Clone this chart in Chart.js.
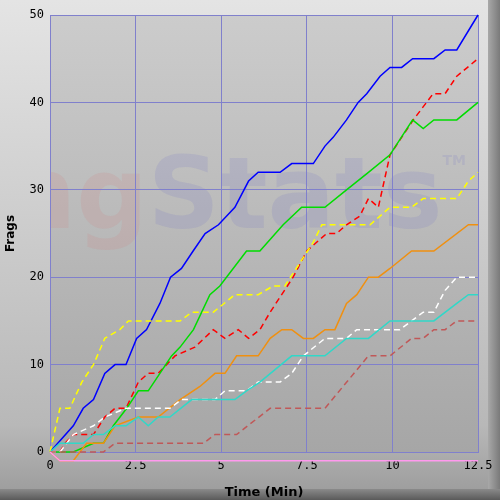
<!DOCTYPE html>
<html><head><meta charset="utf-8">
<script src="https://cdn.jsdelivr.net/npm/chart.js@4"></script>
<style>
html,body{margin:0;padding:0;background:#888;}
#wrap{position:relative;width:500px;height:500px;background:linear-gradient(#e4e4e4,#b8b8b8 85%,#9a9a9a);}
#bot{position:absolute;left:0;right:0;bottom:0;height:11px;background:linear-gradient(#8a8a8a,#5a5a5a);}
#edge{position:absolute;top:0;right:0;width:12px;height:500px;background:linear-gradient(90deg,#a8a8a8,#7a7a7a);}
canvas{position:absolute;left:0;top:0;z-index:1;}
</style></head><body>
<div id="wrap"><div id="edge"></div><div id="bot"></div><canvas id="c" width="500" height="500"></canvas></div>
<script>
const xTicks = [0, 2.5, 5, 7.5, 10, 12.5];
const yTicks = [0, 10, 20, 30, 40, 50];
const blue = [[0,0],[0.68,3],[0.97,5],[1.27,6],[1.6,9],[1.9,10],[2.22,10],[2.53,13],[2.82,14],[3.21,17],[3.52,20],[3.84,21],[4.18,23],[4.53,25],[4.92,26],[5.4,28],[5.8,31],[6.08,32],[6.72,32],[7.06,33],[7.69,33],[8.03,35],[8.27,36],[8.66,38],[9.0,40],[9.25,41],[9.64,43],[9.93,44],[10.27,44],[10.59,45],[11.21,45],[11.54,46],[11.88,46],[12.5,50]];
const red = [[0,0],[0.29,0],[0.44,1],[0.68,2],[1.27,2],[1.6,4],[1.9,5],[2.22,5],[2.58,8],[2.87,9],[3.16,9],[3.65,11],[4.23,12],[4.77,14],[5.11,13],[5.5,14],[5.8,13],[6.13,14],[6.43,16],[7.1,20],[7.5,23],[8.08,25],[8.37,25],[8.66,26],[9.05,27],[9.3,29],[9.59,28],[9.93,34],[10.61,38],[11.19,41],[11.54,41],[11.88,43],[12.5,45]];
const green = [[0,0],[0.68,0],[1.27,1],[1.56,1],[1.85,3],[2.24,5],[2.58,7],[2.87,7],[3.21,9],[3.55,11],[3.8,12],[4.19,14],[4.67,18],[4.96,19],[5.35,21],[5.74,23],[6.13,23],[6.81,26],[7.35,28],[8.03,28],[8.66,30],[9.3,32],[9.93,34],[10.59,38],[10.9,37],[11.21,38],[11.88,38],[12.5,40]];
const yellow = [[0,0],[0.29,5],[0.58,5],[0.93,8],[1.27,10],[1.6,13],[2.04,14],[2.29,15],[3.8,15],[4.14,16],[4.77,16],[5.4,18],[6.08,18],[6.52,19],[6.86,19],[7.69,24],[7.94,26],[9.35,26],[9.93,28],[10.56,28],[10.9,29],[11.88,29],[12.22,31],[12.5,32]];
const orange = [[0,0],[0.29,-1],[0.68,-1],[1.07,1],[1.56,1],[1.9,3],[2.58,4],[3.16,4],[3.8,6],[4.38,7.5],[4.82,9],[5.11,9],[5.45,11],[6.08,11],[6.43,13],[6.77,14],[7.06,14],[7.4,13],[7.69,13],[8.03,14],[8.32,14],[8.66,17],[8.96,18],[9.3,20],[9.59,20],[9.93,21],[10.56,23],[11.21,23],[12.22,26],[12.5,26]];
const white = [[0,0],[0.29,0],[0.68,2],[1.27,3],[1.6,4],[2.22,5],[3.5,5],[3.84,6],[4.82,6],[5.11,7],[5.74,7],[6.08,8],[6.72,8],[7.06,9],[7.4,11],[8.03,13],[8.66,13],[8.96,14],[10.22,14],[10.56,15],[10.9,16],[11.21,16],[11.54,18.5],[11.88,20],[12.5,20]];
const cyan = [[0,0],[0.29,1],[0.97,1],[1.27,2],[1.56,2],[1.9,3],[2.22,3],[2.58,4],[2.87,3],[3.16,4],[3.5,4],[4.14,6],[5.4,6],[5.74,7],[6.13,8],[7.06,11],[8.03,11],[8.66,13],[9.3,13],[9.93,15],[11.21,15],[11.88,17],[12.22,18],[12.5,18]];
const brown = [[0,0],[1.56,0],[1.9,1],[4.48,1],[4.82,2],[5.45,2],[6.43,5],[8.03,5],[9.3,11],[9.93,11],[10.56,13],[10.9,13],[11.21,14],[11.54,14],[11.88,15],[12.5,15]];
const pink = [[0,0],[0.29,-1],[12.5,-1]];

function ds(pts, color, dashed){
  return {data: pts.map(p=>({x:p[0],y:p[1]})), borderColor: color, borderWidth: 1.5,
    borderDash: dashed ? [6,4] : [], pointRadius: 0, tension: 0, clip: false, fill: false};
}
const bgPlugin = {
  id:'bg',
  beforeDraw(chart){
    const {ctx, chartArea:a} = chart;
    const g = ctx.createLinearGradient(0,a.top,0,a.bottom);
    g.addColorStop(0,'#cccccc'); g.addColorStop(1,'#a6a6a6');
    ctx.save(); ctx.fillStyle = g; ctx.fillRect(a.left,a.top,a.right-a.left,a.bottom-a.top);
    ctx.beginPath(); ctx.rect(a.left,a.top,a.right-a.left,a.bottom-a.top); ctx.clip();
    ctx.font = 'bold 100px "DejaVu Sans", sans-serif'; ctx.textBaseline='alphabetic';
    ctx.fillStyle = 'rgba(220,110,110,0.13)'; ctx.fillText('ng', 5, 228);
    const w = ctx.measureText('ng').width;
    ctx.fillStyle = 'rgba(90,90,200,0.13)'; ctx.fillText('Stats', 5+w, 228);
    const w2 = ctx.measureText('Stats').width;
    ctx.font = 'bold 14px "DejaVu Sans", sans-serif'; ctx.fillText('TM', 5+w+w2, 165);
    ctx.restore();
  }
};
new Chart(document.getElementById('c'), {
  type:'line',
  data:{datasets:[
    ds(pink,'#ff99ee',false), ds(brown,'#c05858',true), ds(cyan,'#30d8c8',false), ds(white,'#ffffff',true),
    ds(orange,'#f09010',false), ds(yellow,'#ffff00',true), ds(green,'#00dd00',false), ds(red,'#ff0000',true), ds(blue,'#0000ff',false)
  ]},
  options:{responsive:false, animation:false, events:[],
    layout:{padding:{top:15,right:22,left:0,bottom:0}},
    plugins:{legend:{display:false}, tooltip:{enabled:false}},
    scales:{
      x:{type:'linear', min:0, max:12.5,
        afterBuildTicks(s){ s.ticks = xTicks.map(v=>({value:v})); },
        afterFit(s){ s.height = 48; },
        grid:{color:'#8080cc', lineWidth:1, drawTicks:false},
        border:{color:'#8080cc'},
        ticks:{color:'#000', padding:7, maxRotation:0, font:{family:'"DejaVu Sans Mono", monospace', size:12}, callback:v=>String(v)},
        title:{display:true, text:'Time (Min)', color:'#000', padding:{top:0,bottom:0}, font:{family:'"DejaVu Sans", sans-serif', size:13, weight:'bold'}}},
      y:{min:0, max:50,
        afterBuildTicks(s){ s.ticks = yTicks.map(v=>({value:v})); },
        afterFit(s){ s.width = 50; },
        grid:{color:'#8080cc', lineWidth:1, drawTicks:false},
        border:{color:'#8080cc'},
        ticks:{color:'#000', padding:6, font:{family:'"DejaVu Sans Mono", monospace', size:12}},
        title:{display:true, text:'Frags', color:'#000', padding:{bottom:4}, font:{family:'"DejaVu Sans", sans-serif', size:12, weight:'bold'}}}
    }
  },
  plugins:[bgPlugin]
});
</script></body></html>
